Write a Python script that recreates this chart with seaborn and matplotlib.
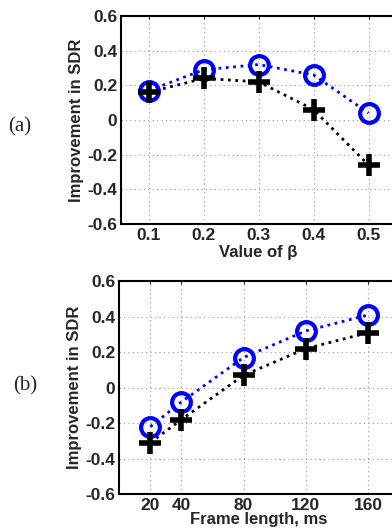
import matplotlib
matplotlib.use("Agg")
import matplotlib.pyplot as plt
import seaborn as sns
import pandas as pd

# Panel (a)
beta = [0.1, 0.2, 0.3, 0.4, 0.5]
beta_labels = ["0.1", "0.2", "0.3", "0.4", "0.5"]
a_circle = [0.17, 0.29, 0.32, 0.26, 0.04]
a_plus = [0.16, 0.24, 0.22, 0.06, -0.26]

# Panel (b)
frame_ms = [20, 40, 80, 120, 160]
frame_labels = ["20", "40", "80", "120", "160"]
b_circle = [-0.22, -0.08, 0.17, 0.32, 0.41]
b_plus = [-0.31, -0.18, 0.07, 0.22, 0.31]

yticks = [-0.6, -0.4, -0.2, 0, 0.2, 0.4, 0.6]
ytick_labels = ["-0.6", "-0.4", "-0.2", "0", "0.2", "0.4", "0.6"]

sns.set_style("white")
plt.rcParams['font.family'] = ['Liberation Sans', 'DejaVu Sans']

fig = plt.figure(figsize=(3.92, 5.28), dpi=100)
W, H = 392, 528

def add_axes(left, top, right, bottom):
    return fig.add_axes([left / W, 1 - bottom / H, (right - left) / W, (bottom - top) / H])

ax1 = add_axes(121.3, 16, 396, 224)
ax2 = add_axes(119.3, 281.3, 399, 494)

def style(ax, x, circ, plus, xlim, xticks, xlabels, xlabel, xpad):
    df = pd.DataFrame({"x": x, "circle": circ, "plus": plus})
    sns.lineplot(data=df, x="x", y="circle", ax=ax, color=(0, 0, 1), linestyle=":",
                 linewidth=2, marker="o", markersize=13.5, markerfacecolor="none",
                 markeredgecolor=(0, 0, 1), markeredgewidth=3, zorder=4)
    sns.lineplot(data=df, x="x", y="plus", ax=ax, color="black", linestyle=":",
                 linewidth=2, zorder=3)
    ax.plot(df["x"], df["plus"], linestyle="none", marker="+", markersize=16,
            markeredgewidth=4, color="black", zorder=5)
    ax.set_xlim(*xlim)
    ax.set_ylim(-0.6, 0.6)
    ax.set_xticks(xticks)
    ax.set_xticklabels(xlabels)
    ax.set_yticks(yticks)
    ax.set_yticklabels(ytick_labels)
    ax.grid(True, linestyle=(0, (1, 3)), color="#999999", linewidth=0.8)
    for s in ax.spines.values():
        s.set_color("black")
        s.set_linewidth(1.5)
    ax.tick_params(axis="both", labelsize=12.5, pad=3, length=2, direction="in",
                   top=True, right=True)
    for lab in ax.get_xticklabels() + ax.get_yticklabels():
        lab.set_fontweight("bold")
    ax.set_ylabel("Improvement in SDR", fontsize=12, fontweight="bold", labelpad=2)
    ax.set_xlabel(xlabel, fontsize=12, fontweight="bold", labelpad=xpad)

style(ax1, beta, a_circle, a_plus, (0.05, 0.55), beta, beta_labels, "Value of β", 1.5)
style(ax2, frame_ms, b_circle, b_plus, (0, 180), frame_ms, frame_labels,
      "Frame length, ms", -1.0)

fig.text(20 / W, 1 - 127 / H, "(a)", family=["Liberation Serif"], fontsize=15,
         ha="center", va="center")
fig.text(25 / W, 1 - 386 / H, "(b)", family=["Liberation Serif"], fontsize=15,
         ha="center", va="center")

fig.savefig("out.png", dpi=100)
